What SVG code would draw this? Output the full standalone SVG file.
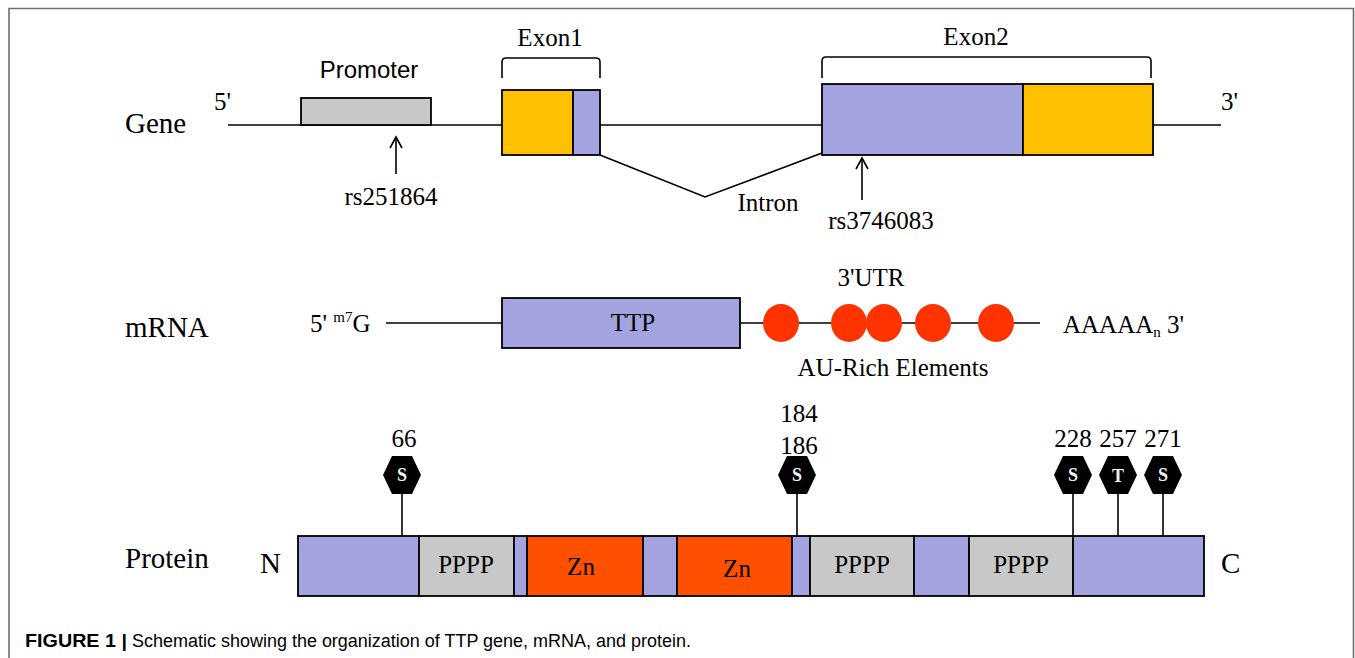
<svg xmlns="http://www.w3.org/2000/svg" width="1355" height="658" viewBox="0 0 1355 658">
<style>
.t{font-family:"Liberation Serif","Times New Roman",serif;fill:#000}
.lab{font-size:29px}
.num{font-size:25px}
.s{font-family:"Liberation Sans",Arial,sans-serif}
.ln{stroke:#000;stroke-width:1.6;fill:none}
.bx{stroke:#000;stroke-width:1.8}
.pu{fill:#a3a3e0}
.or{fill:#ffc000}
.gr{fill:#c8c8c8}
.zn{fill:#ff5000}
.are{fill:#ff3300}
.hex{fill:#000}
.hl{font-family:"Liberation Serif",serif;font-weight:bold;font-size:18px;fill:#e8f4f4;text-anchor:middle}
</style>
<defs>
<marker id="open" markerWidth="14" markerHeight="14" refX="12" refY="7" orient="auto" markerUnits="userSpaceOnUse">
<path d="M1,1 L12,7 L1,13" fill="none" stroke="#000" stroke-width="1.6"/>
</marker>
<polygon id="hx" points="-19,0 -10,-19 10,-19 19,0 10,19 -10,19"/>
</defs>
<rect width="1355" height="658" fill="#fff"/>
<path d="M9,658 V8.5 H1353.5 V658" fill="none" stroke="#6e6e6e" stroke-width="1.6"/>

<g id="labels">
<text class="t lab" x="125" y="133">Gene</text>
<text class="t lab" x="125" y="337">mRNA</text>
<text class="t lab" x="125" y="568">Protein</text>
</g>

<g id="connectors">
<line class="ln" x1="228" y1="125" x2="502" y2="125"/>
<line class="ln" x1="600" y1="125" x2="822" y2="125"/>
<line class="ln" x1="1153" y1="125" x2="1221" y2="125"/>
<polyline class="ln" points="600,155 705,197 822,153"/>
<line class="ln" x1="396" y1="174" x2="396" y2="137" marker-end="url(#open)"/>
<line class="ln" x1="862" y1="200" x2="862" y2="158" marker-end="url(#open)"/>
<path class="ln" d="M502,78 V62 Q502,58 506,58 H596 Q600,58 600,62 V78"/>
<path class="ln" d="M822,78 V61 Q822,57 826,57 H1147 Q1151,57 1151,61 V78"/>
<line class="ln" x1="386" y1="323" x2="502" y2="323"/>
<line class="ln" x1="740" y1="323" x2="1040" y2="323"/>
<line class="ln" x1="402" y1="490" x2="402" y2="536"/>
<line class="ln" x1="797" y1="490" x2="797" y2="536"/>
<line class="ln" x1="1073" y1="490" x2="1073" y2="536"/>
<line class="ln" x1="1118" y1="490" x2="1118" y2="536"/>
<line class="ln" x1="1163" y1="490" x2="1163" y2="536"/>
</g>

<g id="gene">
<text class="t" x="214" y="110" font-size="25">5'</text>
<text class="t" x="1221" y="110" font-size="25">3'</text>
<text class="t num" x="391" y="205" text-anchor="middle">rs251864</text>
<text class="t num" x="768" y="211" text-anchor="middle">Intron</text>
<text class="t num" x="881" y="229" text-anchor="middle">rs3746083</text>
</g>

<g id="promoter">
<rect class="bx gr" x="301" y="98" width="130" height="27"/>
<text class="s" x="369" y="78" font-size="24" text-anchor="middle">Promoter</text>
</g>

<g id="exon1">
<rect class="bx or" x="502" y="90" width="71" height="65"/>
<rect class="bx pu" x="573" y="90" width="27" height="65"/>
<text class="t num" x="550" y="46" text-anchor="middle">Exon1</text>
</g>

<g id="exon2">
<rect class="bx pu" x="822" y="84" width="201" height="71"/>
<rect class="bx or" x="1023" y="84" width="130" height="71"/>
<text class="t num" x="976" y="45" text-anchor="middle">Exon2</text>
</g>

<g id="mrna">
<text class="t num" x="310" y="332">5' <tspan font-size="15" dy="-10">m7</tspan><tspan dy="10">G</tspan></text>
<rect class="bx pu" x="502" y="298" width="238" height="50"/>
<text class="t num" x="633" y="331" text-anchor="middle">TTP</text>
<text class="t num" x="871" y="286" text-anchor="middle">3'UTR</text>
<text class="t num" x="893" y="376" text-anchor="middle">AU-Rich Elements</text>
<text class="t num" x="1063" y="333">AAAAA<tspan font-size="15" dy="4">n</tspan><tspan dy="-4"> 3'</tspan></text>
</g>

<g id="are">
<ellipse class="are" cx="781" cy="323" rx="18" ry="19"/>
<ellipse class="are" cx="849" cy="323" rx="18" ry="19"/>
<ellipse class="are" cx="884" cy="323" rx="18" ry="19"/>
<ellipse class="are" cx="933" cy="323" rx="18" ry="19"/>
<ellipse class="are" cx="996" cy="323" rx="18" ry="19"/>
</g>

<g id="protein">
<text class="t lab" x="260" y="573">N</text>
<text class="t lab" x="1221" y="573">C</text>
<rect class="bx pu" x="298" y="536" width="121" height="60"/>
<rect class="bx gr" x="419" y="536" width="95" height="60"/>
<rect class="bx pu" x="514" y="536" width="13" height="60"/>
<rect class="bx zn" x="527" y="536" width="116" height="60"/>
<rect class="bx pu" x="643" y="536" width="34" height="60"/>
<rect class="bx zn" x="677" y="536" width="115" height="60"/>
<rect class="bx pu" x="792" y="536" width="18" height="60"/>
<rect class="bx gr" x="810" y="536" width="104" height="60"/>
<rect class="bx pu" x="914" y="536" width="55" height="60"/>
<rect class="bx gr" x="969" y="536" width="104" height="60"/>
<rect class="bx pu" x="1073" y="536" width="131" height="60"/>
<text class="t num" x="466" y="573" text-anchor="middle">PPPP</text>
<text class="t num" x="581" y="575" text-anchor="middle">Zn</text>
<text class="t num" x="737" y="577" text-anchor="middle">Zn</text>
<text class="t num" x="862" y="573" text-anchor="middle">PPPP</text>
<text class="t num" x="1021" y="573" text-anchor="middle">PPPP</text>
</g>

<g id="site66">
<text class="t num" x="404" y="447" text-anchor="middle">66</text>
<use href="#hx" x="402" y="475" class="hex"/>
<text class="hl" x="402" y="481">S</text>
</g>
<g id="site184">
<text class="t num" x="799" y="422" text-anchor="middle">184</text>
<text class="t num" x="799" y="454" text-anchor="middle">186</text>
<use href="#hx" x="797" y="475" class="hex"/>
<text class="hl" x="797" y="481">S</text>
</g>
<g id="site228">
<text class="t num" x="1073" y="447" text-anchor="middle">228</text>
<use href="#hx" x="1073" y="475" class="hex"/>
<text class="hl" x="1073" y="481">S</text>
</g>
<g id="site257">
<text class="t num" x="1118" y="447" text-anchor="middle">257</text>
<use href="#hx" x="1118" y="475" class="hex"/>
<text class="hl" x="1118" y="482" font-size="21">T</text>
</g>
<g id="site271">
<text class="t num" x="1163" y="447" text-anchor="middle">271</text>
<use href="#hx" x="1163" y="475" class="hex"/>
<text class="hl" x="1163" y="481">S</text>
</g>

<g id="caption">
<text class="s" x="25" y="647" font-size="18" font-weight="bold" textLength="102" lengthAdjust="spacingAndGlyphs">FIGURE 1 |</text>
<text class="s" x="132" y="647" font-size="18" textLength="559" lengthAdjust="spacingAndGlyphs">Schematic showing the organization of TTP gene, mRNA, and protein.</text>
</g>
</svg>
